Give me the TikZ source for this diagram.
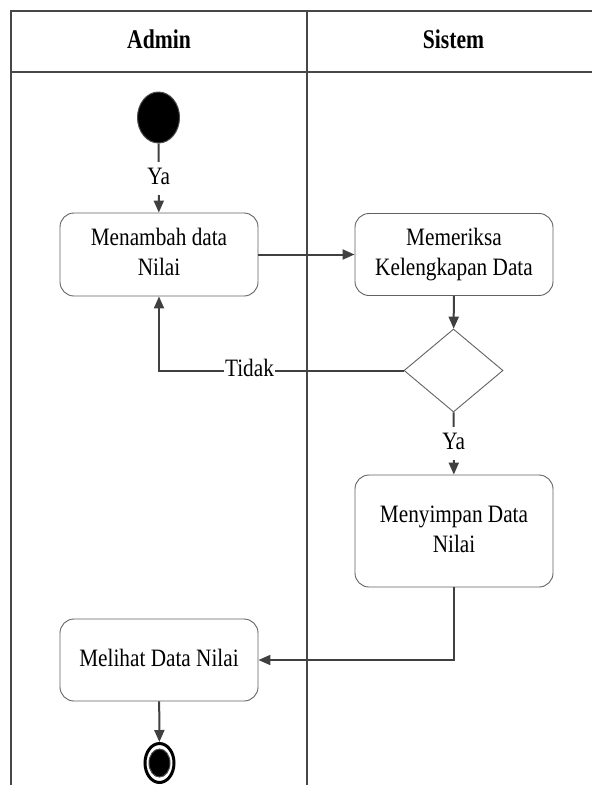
\documentclass[tikz,border=0pt]{standalone}
\usepackage{fontspec}
\setmainfont{Liberation Serif}
\usetikzlibrary{arrows.meta,shapes.geometric}
% narrow set text, one or more centred lines
\newcommand{\sqz}[2][0.85]{\scalebox{#1}[1]{\begin{tabular}{@{}c@{}}#2\end{tabular}}}
\begin{document}
\begin{tikzpicture}[x=1pt,y=-1pt,
  lane/.style={draw=black!72, line width=1.2pt},
  head/.style={inner sep=0pt, font=\fontsize{27}{32}\selectfont\bfseries},
  action/.style={draw=black!62, line width=0.9pt, rounded corners=14pt,
    minimum width=198pt, inner sep=0pt, font=\fontsize{25}{30}\selectfont},
  decision/.style={diamond, draw=black!62, line width=0.9pt, inner sep=0pt,
    minimum width=99pt, minimum height=83pt},
  startnode/.style={ellipse, fill=black, draw=black!70, line width=1pt,
    minimum width=42pt, minimum height=51pt, inner sep=0pt},
  endring/.style={ellipse, draw=black, line width=3pt, fill=white,
    minimum width=29pt, minimum height=39pt, inner sep=0pt},
  enddot/.style={ellipse, fill=black, draw=black!70, line width=1pt,
    minimum width=21pt, minimum height=28pt, inner sep=0pt},
  flow/.style={draw=black!75, line width=2pt, -{Triangle[length=12pt,width=10pt]}},
  guard/.style={fill=white, inner sep=1.5pt, font=\fontsize{25}{30}\selectfont}]
\useasboundingbox (0,0) rectangle (592,785);

% swimlane frame
\coordinate (topL) at (11,11);
\coordinate (topR) at (600,11);
\coordinate (headL) at (11,72);
\coordinate (headR) at (600,72);
\coordinate (botL) at (11,790);
\coordinate (divT) at (307,11);
\coordinate (divB) at (307,790);
\draw[lane] (topR) -- (topL) -- (botL);
\draw[lane] (headL) -- (headR);
\draw[lane] (divT) -- (divB);

\node[head] (hadmin) at (159,42) {\sqz[0.8]{Admin}};
\node[head] (hsistem) at (453.5,42) {\sqz[0.8]{Sistem}};

% activities
\node[startnode] (mulai) at (158.5,117.5) {};
\node[action, minimum height=83pt] (tambah) at (159,254.5) {\sqz{Menambah data\\Nilai}};
\node[action, minimum height=82pt] (periksa) at (454,254.5) {\sqz{Memeriksa\\Kelengkapan Data}};
\node[decision] (cek) at (453.5,370.5) {};
\node[action, minimum height=112pt] (simpan) at (454,531) {\sqz{Menyimpan Data\\Nilai}};
\node[action, minimum height=82pt] (lihat) at (159,660) {\sqz{Melihat Data Nilai}};
\node[endring] (selesai) at (159.5,763) {};
\node[enddot] (selesaiIsi) at (selesai.center) {};

% transitions
\draw[flow] (mulai) -- node[guard] {\sqz{Ya}} (tambah);
\draw[flow] (tambah.east) -- (tambah.east -| periksa.west);
\draw[flow] (periksa) -- (cek);
\draw[flow] (cek.west) -- node[guard, pos=0.63] {\sqz{Tidak}} (tambah.south |- cek.west) -- (tambah.south);
\draw[flow] (cek) -- node[guard] {\sqz{Ya}} (simpan);
\draw[flow] (simpan.south) |- (lihat.east);
\draw[flow] (lihat) -- (selesai);
\end{tikzpicture}
\end{document}
